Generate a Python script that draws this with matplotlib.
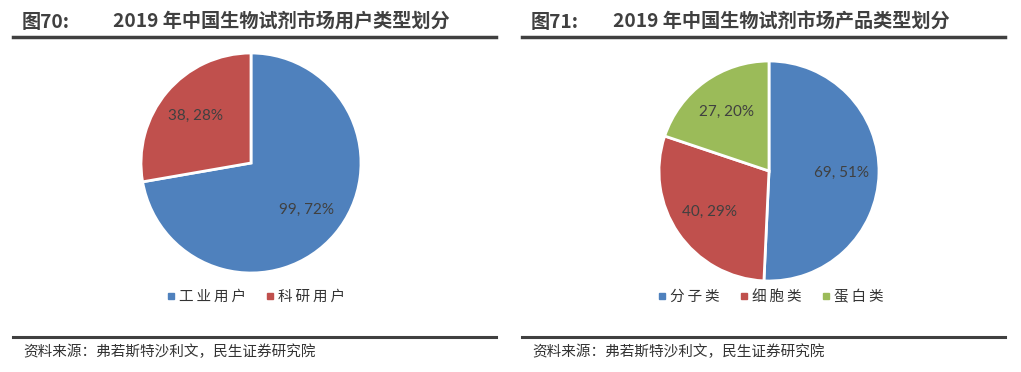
import matplotlib.pyplot as plt
from matplotlib.lines import Line2D

plt.rcParams["font.family"] = ["Noto Sans CJK SC", "DejaVu Sans"]

# data
user_labels = ["工业用户", "科研用户"]
user_values = [99, 38]
prod_labels = ["分子类", "细胞类", "蛋白类"]
prod_values = [69, 40, 27]
colors = ["#4F81BD", "#C0504D", "#9BBB59"]

W, H = 1021, 372
fig = plt.figure(figsize=(W / 100, H / 100), dpi=100)


def px(x, y):
    # pixel (from top-left) -> figure fraction
    return x / W, 1 - y / H


def pie_panel(cx, cy, r, values, labels, fig_no, title, x0, x1, title_x, leg_x):
    l, b = px(cx - r, cy + r)
    ax = fig.add_axes([l, b, 2 * r / W, 2 * r / H])
    total = sum(values)

    def fmt(p):
        v = round(p * total / 100)
        return f"{v}, {p:.0f}%"

    ax.pie(values, colors=colors[:len(values)], startangle=90, counterclock=False,
           autopct=fmt, pctdistance=0.66,
           wedgeprops=dict(edgecolor="white", linewidth=2),
           textprops=dict(color="#404040", fontsize=11, family=["Lato", "DejaVu Sans"]))
    ax.set_xlim(-1, 1)
    ax.set_ylim(-1, 1)
    ax.set_aspect("equal")

    handles = [Line2D([], [], marker="s", linestyle="none", markersize=4,
                      color=c) for c in colors[:len(values)]]
    fig.legend(handles, ["\u2009".join(s) for s in labels], loc="center",
               bbox_to_anchor=px(leg_x, 297), ncol=len(labels), frameon=False,
               fontsize=10.5, handlelength=0.5, handletextpad=0.3,
               columnspacing=1.4, labelcolor="#333333")

    # title
    tx, ty = px(x0 + 9, 22)
    fig.text(tx, ty, fig_no, fontsize=13.8, fontweight="bold", color="#404040",
             va="center")
    tx2, _ = px(title_x, 22)
    fig.text(tx2, ty, title, fontsize=13.8, fontweight="bold", color="#404040",
             va="center")
    # rules
    fig.add_artist(Line2D([x0 / W, x1 / W], [1 - 37 / H] * 2, color="#404040",
                          linewidth=2.5))
    fig.add_artist(Line2D([x0 / W, x1 / W], [1 - 337 / H] * 2, color="#404040",
                          linewidth=2.2))
    sx, sy = px(x0 + 10, 352)
    fig.text(sx, sy, "资料来源：弗若斯特沙利文，民生证券研究院", fontsize=10.5,
             color="#333333", va="center")


pie_panel(251, 163, 110, user_values, user_labels, "图70:",
          "2019 年中国生物试剂市场用户类型划分", 13, 496, 113, 256)
pie_panel(769, 171, 110, prod_values, prod_labels, "图71:",
          "2019 年中国生物试剂市场产品类型划分", 522, 1005, 613, 771)

fig.savefig("out.png", dpi=100)
